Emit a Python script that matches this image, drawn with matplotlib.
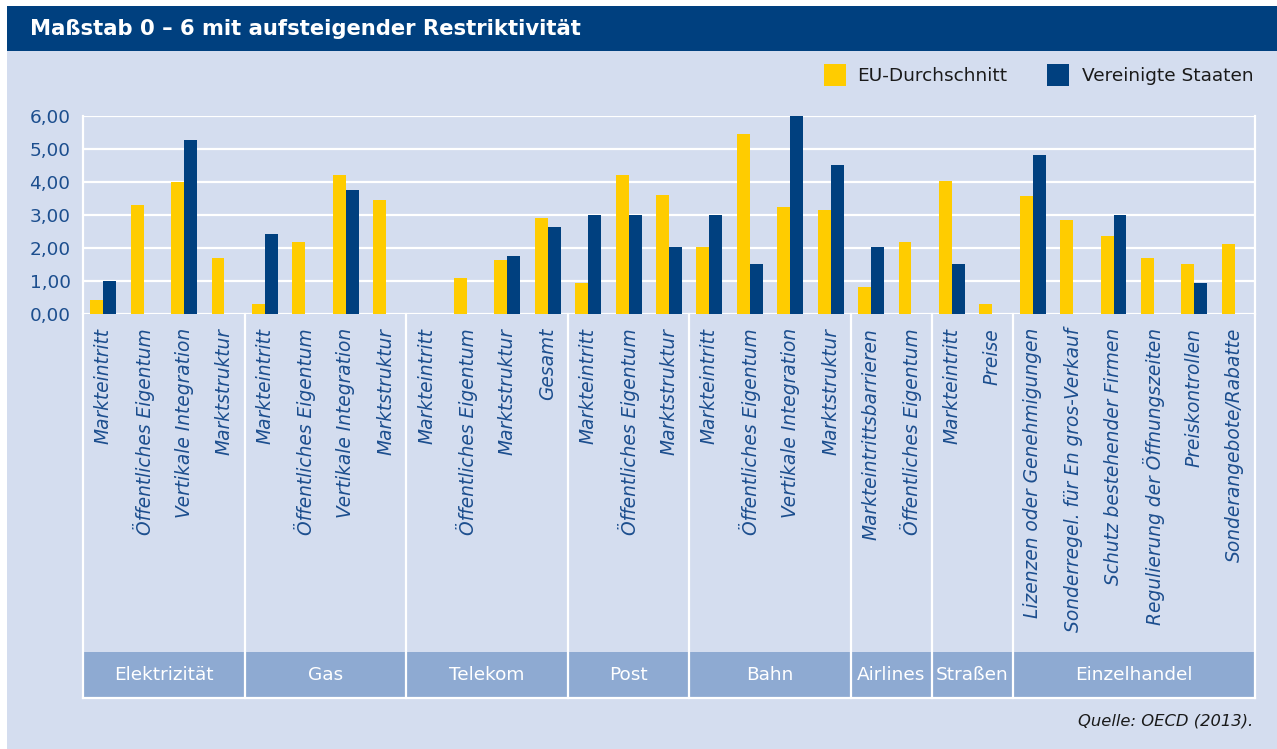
import numpy as np
import matplotlib
matplotlib.use("Agg")
import matplotlib.pyplot as plt
from matplotlib.patches import Rectangle

# ---- data ----
groups = ["Elektrizität", "Gas", "Telekom", "Post", "Bahn", "Airlines", "Straßen", "Einzelhandel"]
group_sizes = [4, 4, 4, 3, 4, 2, 2, 6]
categories = [
    "Markteintritt", "Öffentliches Eigentum", "Vertikale Integration", "Marktstruktur",
    "Markteintritt", "Öffentliches Eigentum", "Vertikale Integration", "Marktstruktur",
    "Markteintritt", "Öffentliches Eigentum", "Marktstruktur", "Gesamt",
    "Markteintritt", "Öffentliches Eigentum", "Marktstruktur",
    "Markteintritt", "Öffentliches Eigentum", "Vertikale Integration", "Marktstruktur",
    "Markteintrittsbarrieren", "Öffentliches Eigentum",
    "Markteintritt", "Preise",
    "Lizenzen oder Genehmigungen", "Sonderregel. für En gros-Verkauf",
    "Schutz bestehender Firmen", "Regulierung der Öffnungszeiten",
    "Preiskontrollen", "Sonderangebote/Rabatte",
]
eu_values = [0.41, 3.29, 4.00, 1.71,
             0.29, 2.17, 4.20, 3.44,
             0.00, 1.10, 1.65, 2.90,
             0.95, 4.20, 3.60,
             2.02, 5.45, 3.23, 3.14,
             0.83, 2.17,
             4.02, 0.31,
             3.57, 2.84, 2.35, 1.71, 1.50, 2.11]
us_values = [1.01, np.nan, 5.27, np.nan,
             2.41, np.nan, 3.75, np.nan,
             np.nan, np.nan, 1.77, 2.65,
             2.99, 2.99, 2.02,
             2.99, 1.50, 6.00, 4.51,
             2.02, np.nan,
             1.50, np.nan,
             4.81, np.nan, 2.99, np.nan, 0.95, np.nan]
yticks = [0, 1, 2, 3, 4, 5, 6]
series_names = ["EU-Durchschnitt", "Vereinigte Staaten"]
source = "Quelle: OECD (2013)."
title = "Maßstab 0 – 6 mit aufsteigender Restriktivität"

# ---- style ----
W, H = 1277, 749
YELLOW = "#FFCC00"
NAVY = "#00407F"
PANEL = "#D4DDEF"
BAND = "#8EAAD2"
TXT = "#1C4E8E"
plt.rcParams["font.family"] = ["DejaVu Sans"]

fig = plt.figure(figsize=(W / 100, H / 100), dpi=100)
fig.patch.set_facecolor("white")

def fx(px):
    return px / W

def fy(py):
    return 1 - py / H

# panel & title bar
fig.patches.append(Rectangle((fx(7), 0), 1 - fx(7), fy(51), transform=fig.transFigure,
                             facecolor=PANEL, edgecolor="none", zorder=-2))
fig.patches.append(Rectangle((fx(7), fy(51)), 1 - fx(7), fy(6) - fy(51), transform=fig.transFigure,
                             facecolor=NAVY, edgecolor="none", zorder=-2))
fig.text(fx(30), fy(29), title, color="white", fontsize=15.2, fontweight="bold",
         ha="left", va="center")

# main axes
L, R, T, B = 83, 1255, 116, 314
ax = fig.add_axes([fx(L), fy(B), fx(R) - fx(L), fy(T) - fy(B)])
ax.set_facecolor("none")
n = len(categories)
x = np.arange(n)
bw = 0.32
ax.bar(x - bw / 2, eu_values, width=bw, color=YELLOW, zorder=3, label=series_names[0])
ax.bar(x + bw / 2, us_values, width=bw, color=NAVY, zorder=3, label=series_names[1])
ax.set_xlim(-0.5, n - 0.5)
ax.set_ylim(0, 6)
ax.set_yticks(yticks)
ax.set_yticklabels([f"{v:.2f}".replace(".", ",") for v in yticks], color=TXT, fontsize=13.3)
ax.set_xticks(x)
ax.set_xticklabels(categories, rotation=90, fontstyle="italic", color=TXT, fontsize=13.4,
                   ha="center", va="top")
ax.tick_params(axis="both", length=0)
ax.tick_params(axis="y", pad=9)
ax.tick_params(axis="x", pad=10)
for yv in yticks:
    ax.axhline(yv, color="white", lw=1.6, zorder=2)
for s in ["left", "right"]:
    ax.spines[s].set_color("white")
    ax.spines[s].set_linewidth(1.6)
for s in ["top", "bottom"]:
    ax.spines[s].set_visible(False)

# lower axes with group band
BB = 698
ax2 = fig.add_axes([fx(L), fy(BB), fx(R) - fx(L), fy(B) - fy(BB)], sharex=ax)
ax2.set_facecolor("none")
ax2.set_ylim(0, 1)
ax2.axis("off")
band_top = (BB - 652) / (BB - B)
ax2.add_patch(Rectangle((-0.5, 0), n, band_top, facecolor=BAND, edgecolor="none", zorder=1))
bounds = np.concatenate([[0], np.cumsum(group_sizes)]) - 0.5
for b in bounds:
    ax2.plot([b, b], [0, 1], color="white", lw=1.6, zorder=3, clip_on=False)
ax2.plot([-0.5, n - 0.5], [0, 0], color="white", lw=1.6, zorder=3, clip_on=False)
for g, a, b in zip(groups, bounds[:-1], bounds[1:]):
    ax2.text((a + b) / 2, band_top / 2, g, color="white", fontsize=13.3,
             ha="center", va="center", zorder=4)

# legend (manual)
sq = 22
for (px0, col, lbl, tx) in [(824, YELLOW, series_names[0], 857), (1047, NAVY, series_names[1], 1082)]:
    fig.patches.append(Rectangle((fx(px0), fy(64 + sq)), fx(sq), fy(64) - fy(64 + sq),
                                 transform=fig.transFigure, facecolor=col, edgecolor="none"))
    fig.text(fx(tx), fy(76), lbl, color="#1a1a1a", fontsize=13.3, ha="left", va="center")

fig.text(fx(1253), fy(721), source, fontsize=11.8, fontstyle="italic", color="#1a1a1a",
         ha="right", va="center")

fig.savefig("out.png", dpi=100, facecolor=fig.get_facecolor())
